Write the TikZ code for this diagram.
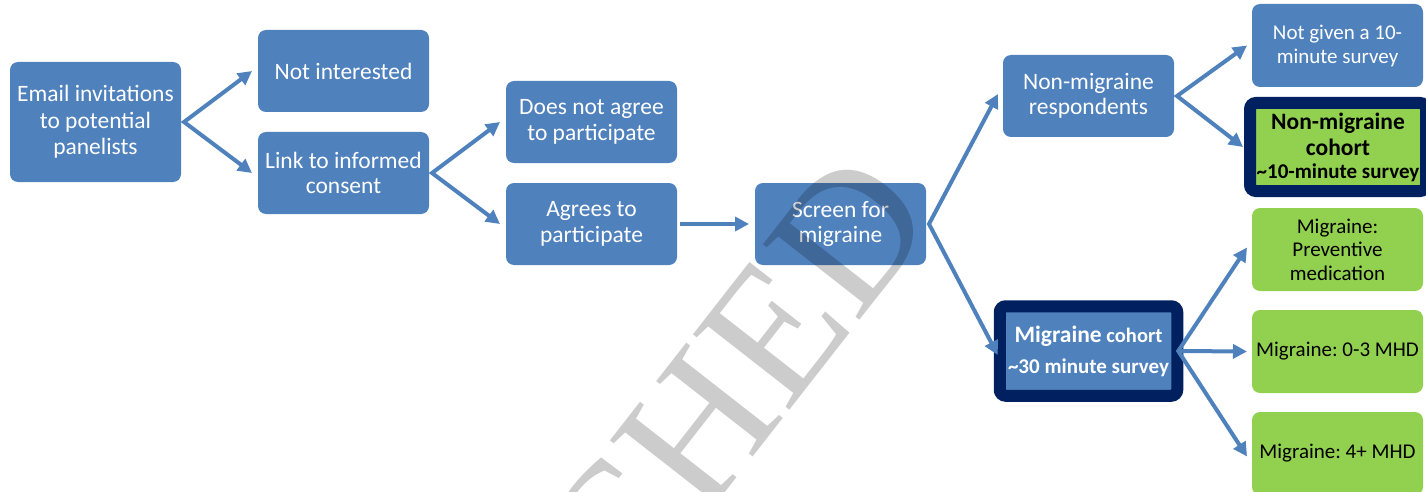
\documentclass[tikz,border=0pt]{standalone}
\usepackage{fontspec}
\setmainfont{Carlito}
\newfontfamily\wmfont{Liberation Serif}
\usetikzlibrary{arrows.meta}
\definecolor{boxblue}{HTML}{4F81BD}
\definecolor{boxgreen}{HTML}{92D050}
\definecolor{navy}{HTML}{002060}
\frenchspacing
\begin{document}
\begin{tikzpicture}[x=1pt,y=-1pt,
  box/.style={rectangle, rounded corners=8pt, minimum width=171pt, minimum height=82pt,
    inner sep=2pt, outer sep=0pt, align=center},
  bluebox/.style={box, fill=boxblue, text=white, font=\fontsize{23.5}{25.5}\selectfont},
  greenbox/.style={box, fill=boxgreen, text=black, minimum height=83pt, font=\fontsize{21}{23.5}\selectfont},
  cohortbox/.style={box, draw=navy, line width=12pt, rounded corners=6pt},
  arr/.style={draw=boxblue, line width=4pt, -{Triangle[length=14pt,width=14pt]}},
  arrtwo/.style={draw=boxblue, line width=4pt, line join=miter,
    {Triangle[length=14pt,width=14pt]}-{Triangle[length=14pt,width=14pt]}},
  watermark/.style={rotate=52, text=black, text opacity=0.2, inner sep=0pt,
    font=\wmfont\fontsize{187}{187}\selectfont}
]
\useasboundingbox (0,0) rectangle (1426,492);
\clip (0,0) rectangle (1426,492);

% first column
\node[bluebox, minimum height=120pt, font=\fontsize{23.5}{26.5}\selectfont] (email) at (95.5,122)
  {Email invitations\\to potential\\panelists};
% second column
\node[bluebox] (notint) at (343.5,71) {Not interested};
\node[bluebox] (link) at (343.5,173) {Link to informed\\consent};
% third column
\node[bluebox] (notagree) at (591.5,122) {Does not agree\\to participate};
\node[bluebox] (agrees) at (591.5,224) {Agrees to\\participate};
% screening
\node[bluebox] (screen) at (840.5,224) {Screen for\\migraine};
% cohorts
\node[bluebox] (nonmig) at (1088.5,96) {Non-migraine\\respondents};
\node[cohortbox, fill=boxblue, text=white, minimum width=177.5pt, minimum height=89.5pt,
  font=\bfseries\fontsize{21}{26}\selectfont] (migcoh) at (1088.5,351)
  {{\fontsize{23.5}{26}\selectfont Migraine} {\fontsize{20.5}{26}\selectfont cohort}\\[5pt]
   \textasciitilde30 minute survey};
% outcomes
\node[box, fill=boxblue, text=white, minimum height=83pt, font=\fontsize{21}{24}\selectfont]
  (notgiven) at (1337.5,45.5) {Not given a 10-\\minute survey};
\node[cohortbox, fill=boxgreen, text=black, minimum width=176pt, minimum height=88pt,
  font=\bfseries\fontsize{23.5}{26}\selectfont] (noncoh) at (1338,147)
  {Non-migraine\\cohort\\[-3pt]
   {\fontsize{21}{22}\selectfont \textasciitilde10-minute survey}};
\node[greenbox] (prev) at (1337.5,249.5) {Migraine:\\Preventive\\medication};
\node[greenbox] (mhdlow) at (1337.5,351.5) {Migraine: 0-3 MHD};
\node[greenbox] (mhdhigh) at (1337.5,453.5) {Migraine: 4+ MHD};

% connectors
\draw[arrtwo] ([xshift=-6pt]notint.west) -- ([xshift=3pt]email.east) -- ([xshift=-6pt]link.west);
\draw[arrtwo] ([xshift=-6pt]notagree.west) -- ([xshift=3pt]link.east) -- ([xshift=-6pt]agrees.west);
\draw[arr] ([xshift=3pt]agrees.east) -- ([xshift=-6pt]screen.west);
\draw[arrtwo] ([xshift=-5pt,yshift=2pt]nonmig.west) -- ([xshift=3pt]screen.east) -- ([xshift=-2pt,yshift=-4pt]migcoh.west);
\draw[arrtwo] ([xshift=-5pt]notgiven.west) -- ([xshift=3pt]nonmig.east) -- ([xshift=-7pt]noncoh.west);
\draw[arrtwo] ([xshift=-5pt,yshift=2pt]prev.west) -- ([xshift=1pt]migcoh.east) -- ([xshift=-5pt,yshift=-3pt]mhdhigh.west);
\draw[arr] ([xshift=1pt]migcoh.east) -- ([xshift=-5pt]mhdlow.west);

% overlay stamp
\node[watermark] (stamp) at (735,381) {CHED};
\end{tikzpicture}
\end{document}
